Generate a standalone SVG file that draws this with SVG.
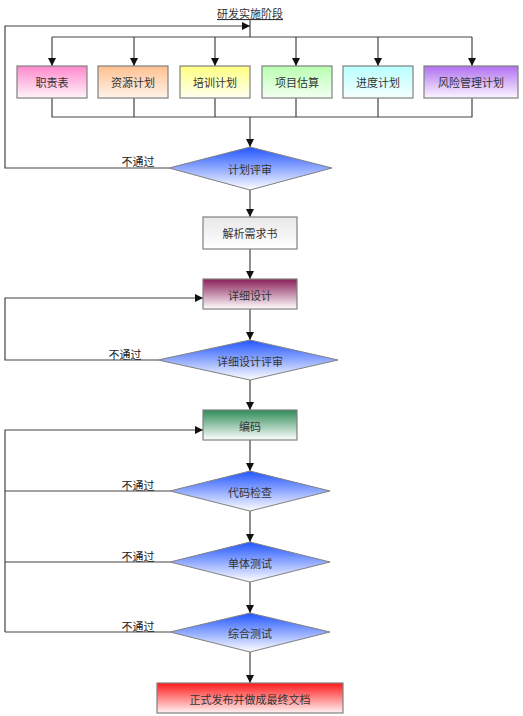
<svg xmlns="http://www.w3.org/2000/svg" width="523" height="716" viewBox="0 0 523 716">
<style>
text{font-family:"Noto Sans CJK SC","Liberation Sans",sans-serif;font-size:11px;fill:#333;}
.lbl{text-anchor:middle;dominant-baseline:central;}
.box{stroke:#808080;stroke-width:1.2;}
.dia{stroke:#808080;stroke-width:1;}
.ln{fill:none;stroke:#444;stroke-width:1.2;}
.t{fill:#222;}
</style>
<defs>
<marker id="ar" viewBox="0 0 8 8" refX="8" refY="4" markerWidth="8" markerHeight="8" markerUnits="userSpaceOnUse" orient="auto"><path d="M0,0L8,4L0,8z" fill="#111"/></marker>
<linearGradient id="gPink" x1="0" y1="0" x2="0" y2="1"><stop offset="0" stop-color="#ff88cc"/><stop offset="1" stop-color="#fff4fa"/></linearGradient>
<linearGradient id="gOrange" x1="0" y1="0" x2="0" y2="1"><stop offset="0" stop-color="#ffc090"/><stop offset="1" stop-color="#fff4ea"/></linearGradient>
<linearGradient id="gYellow" x1="0" y1="0" x2="0" y2="1"><stop offset="0" stop-color="#ffff80"/><stop offset="1" stop-color="#fffff2"/></linearGradient>
<linearGradient id="gGreen" x1="0" y1="0" x2="0" y2="1"><stop offset="0" stop-color="#b8ffb0"/><stop offset="1" stop-color="#f4fff2"/></linearGradient>
<linearGradient id="gCyan" x1="0" y1="0" x2="0" y2="1"><stop offset="0" stop-color="#b8ffff"/><stop offset="1" stop-color="#f6ffff"/></linearGradient>
<linearGradient id="gPurple" x1="0" y1="0" x2="0" y2="1"><stop offset="0" stop-color="#b070f0"/><stop offset="1" stop-color="#fbf6ff"/></linearGradient>
<linearGradient id="gGray" x1="0" y1="0" x2="0" y2="1"><stop offset="0" stop-color="#e8e8e8"/><stop offset="1" stop-color="#ffffff"/></linearGradient>
<linearGradient id="gMag" x1="0" y1="0" x2="0" y2="1"><stop offset="0" stop-color="#8b1f5a"/><stop offset="1" stop-color="#ffffff"/></linearGradient>
<linearGradient id="gDGreen" x1="0" y1="0" x2="0" y2="1"><stop offset="0" stop-color="#2e8b57"/><stop offset="1" stop-color="#ffffff"/></linearGradient>
<linearGradient id="gRed" x1="0" y1="0" x2="0" y2="1"><stop offset="0" stop-color="#ff1a1a"/><stop offset="1" stop-color="#fff4f4"/></linearGradient>
<linearGradient id="gBlue" x1="0" y1="0" x2="0" y2="1"><stop offset="0" stop-color="#2255ff"/><stop offset="1" stop-color="#ffffff"/></linearGradient>
</defs>

<text id="title" x="250" y="13" class="lbl" text-decoration="underline">研发实施阶段</text>

<g id="connectors">
<path class="ln" d="M250,19V37"/>
<path class="ln" d="M52,37H472"/>
<path class="ln" d="M52,37V66" marker-end="url(#ar)"/>
<path class="ln" d="M134,37V66" marker-end="url(#ar)"/>
<path class="ln" d="M215,37V66" marker-end="url(#ar)"/>
<path class="ln" d="M296,37V66" marker-end="url(#ar)"/>
<path class="ln" d="M378,37V66" marker-end="url(#ar)"/>
<path class="ln" d="M472,37V66" marker-end="url(#ar)"/>
<path class="ln" d="M52,98V117H472V98"/>
<path class="ln" d="M134,98V117M215,98V117M296,98V117M378,98V117"/>
<path class="ln" d="M250,117V147" marker-end="url(#ar)"/>
<path class="ln" d="M169,168H5V26H250" marker-end="url(#ar)"/>
<path class="ln" d="M250,190V217" marker-end="url(#ar)"/>
<path class="ln" d="M250,249V279" marker-end="url(#ar)"/>
<path class="ln" d="M250,309V340" marker-end="url(#ar)"/>
<path class="ln" d="M158,360H5V298H203" marker-end="url(#ar)"/>
<path class="ln" d="M250,380V410" marker-end="url(#ar)"/>
<path class="ln" d="M5,632V430H203" marker-end="url(#ar)"/>
<path class="ln" d="M170,491H5"/>
<path class="ln" d="M170,562H5"/>
<path class="ln" d="M170,632H5"/>
<path class="ln" d="M250,440V471" marker-end="url(#ar)"/>
<path class="ln" d="M250,511V542" marker-end="url(#ar)"/>
<path class="ln" d="M250,582V613" marker-end="url(#ar)"/>
<path class="ln" d="M250,652V683" marker-end="url(#ar)"/>
<text x="138" y="161" class="lbl t">不通过</text>
<text x="125" y="354" class="lbl t">不通过</text>
<text x="138" y="485" class="lbl t">不通过</text>
<text x="138" y="556" class="lbl t">不通过</text>
<text x="138" y="626" class="lbl t">不通过</text>
</g>

<g id="n1"><rect class="box" x="17" y="66" width="70" height="32" fill="url(#gPink)"/><text x="52" y="82" class="lbl">职责表</text></g>
<g id="n2"><rect class="box" x="98" y="66" width="70" height="32" fill="url(#gOrange)"/><text x="133" y="82" class="lbl">资源计划</text></g>
<g id="n3"><rect class="box" x="180" y="66" width="70" height="32" fill="url(#gYellow)"/><text x="215" y="82" class="lbl">培训计划</text></g>
<g id="n4"><rect class="box" x="262" y="66" width="70" height="32" fill="url(#gGreen)"/><text x="297" y="82" class="lbl">项目估算</text></g>
<g id="n5"><rect class="box" x="343" y="66" width="70" height="32" fill="url(#gCyan)"/><text x="378" y="82" class="lbl">进度计划</text></g>
<g id="n6"><rect class="box" x="424" y="66" width="94" height="32" fill="url(#gPurple)"/><text x="471" y="82" class="lbl">风险管理计划</text></g>

<g id="d1"><path class="dia" d="M250,147L332,168L250,190L169,168Z" fill="url(#gBlue)"/><text x="250" y="169" class="lbl">计划评审</text></g>
<g id="n7"><rect class="box" x="203" y="217" width="94" height="32" fill="url(#gGray)"/><text x="250" y="233" class="lbl">解析需求书</text></g>
<g id="n8"><rect class="box" x="203" y="279" width="94" height="30" fill="url(#gMag)"/><text x="250" y="295" class="lbl">详细设计</text></g>
<g id="d2"><path class="dia" d="M250,340L338,360L250,380L158,360Z" fill="url(#gBlue)"/><text x="250" y="361" class="lbl">详细设计评审</text></g>
<g id="n9"><rect class="box" x="203" y="410" width="94" height="30" fill="url(#gDGreen)"/><text x="250" y="426" class="lbl">编码</text></g>
<g id="d3"><path class="dia" d="M250,471L330,491L250,511L170,491Z" fill="url(#gBlue)"/><text x="250" y="492" class="lbl">代码检查</text></g>
<g id="d4"><path class="dia" d="M250,542L330,562L250,582L170,562Z" fill="url(#gBlue)"/><text x="250" y="563" class="lbl">单体测试</text></g>
<g id="d5"><path class="dia" d="M250,613L330,632L250,652L170,632Z" fill="url(#gBlue)"/><text x="250" y="633" class="lbl">综合测试</text></g>
<g id="n10"><rect class="box" x="157" y="683" width="186" height="30" fill="url(#gRed)"/><text x="250" y="699" class="lbl">正式发布并做成最终文档</text></g>
</svg>
